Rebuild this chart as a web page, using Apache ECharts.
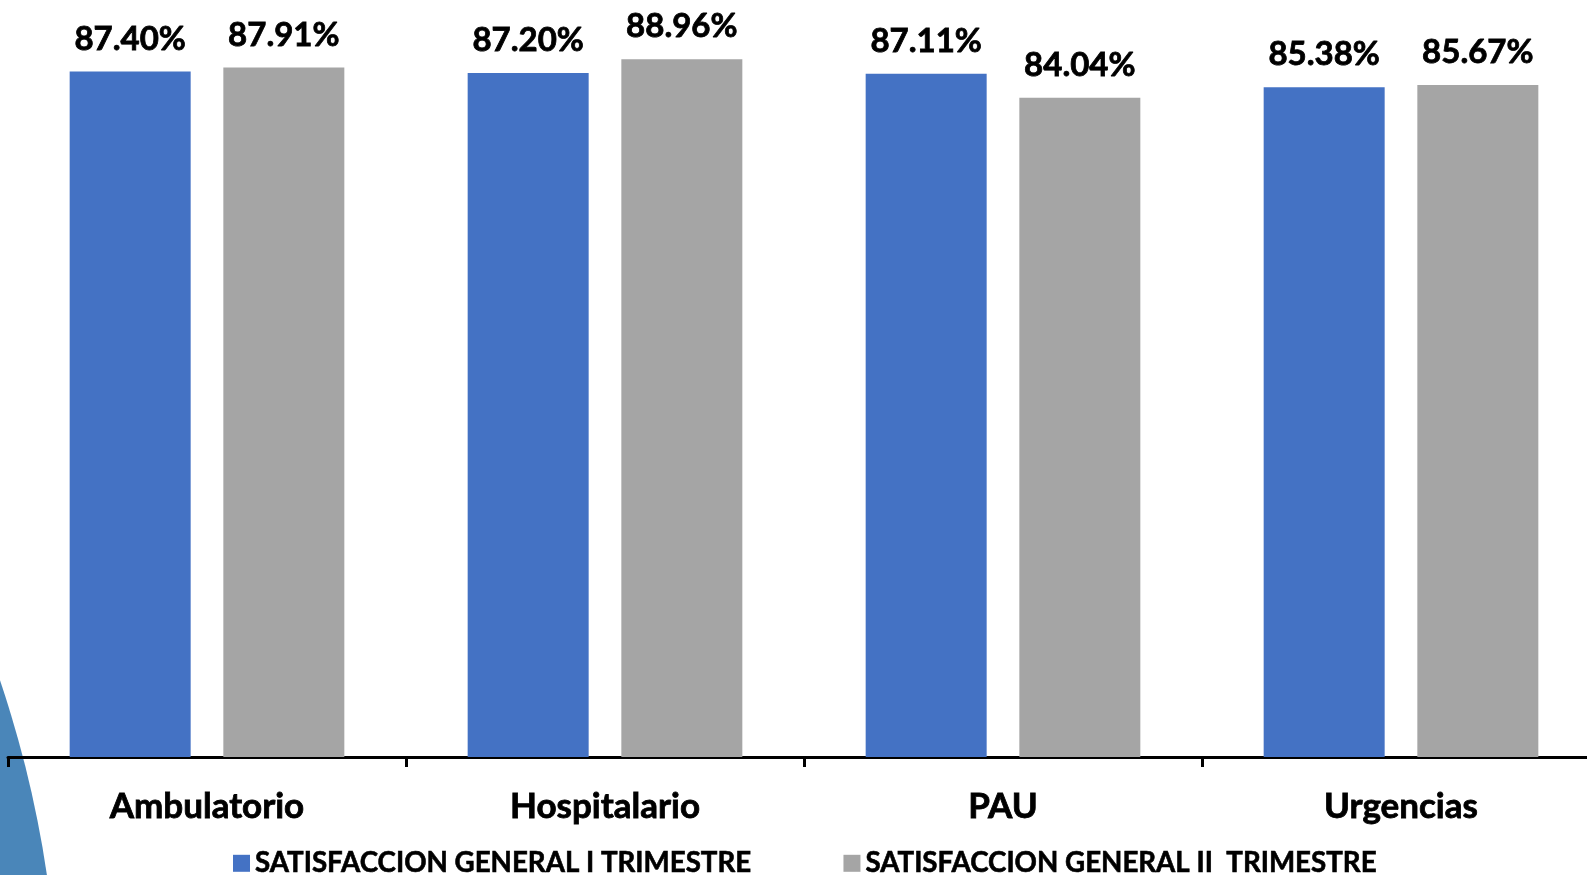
<!DOCTYPE html>
<html>
<head>
<meta charset="utf-8">
<script src="https://cdn.jsdelivr.net/npm/echarts@6/dist/echarts.min.js"></script>
<style>
  html, body { margin: 0; padding: 0; background: #fff; overflow: hidden; }
  /* el eje sigue mas alla del borde derecho, por eso el lienzo es algo mas ancho */
  #chart-panel { width: 1600px; height: 875px; }
</style>
</head>
<body>
<div id="chart-panel"></div>
<script>
// datos
const categories = ["Ambulatorio", "Hospitalario", "PAU", "Urgencias"]
const seriesNames = ["SATISFACCION GENERAL I TRIMESTRE", "SATISFACCION GENERAL II  TRIMESTRE"]
const trimestre1 = [87.40, 87.20, 87.11, 85.38]
const trimestre2 = [87.91, 88.96, 84.04, 85.67]

const color = ["#4472C4", "#A5A5A5"]
const font = "Lato, 'Open Sans', sans-serif"

const chart = echarts.init(document.getElementById("chart-panel"))

const barSeries = (name, data, i) => ({
  name: name,
  type: "bar",
  data: data,
  barWidth: 121,
  barGap: "27%",
  itemStyle: { color: color[i] },
  label: {
    show: true,
    position: "top",
    distance: 16,
    color: "#000",
    fontFamily: font,
    fontWeight: "bold",
    fontSize: 33,
    textBorderColor: "#000",
    textBorderWidth: 0.8,
    formatter: (p) => p.value.toFixed(2) + "%"
  }
})

const options = {
  animation: false,
  backgroundColor: "#fff",
  graphic: [
    {
      // adorno azul de fondo (esquina inferior izquierda)
      type: "circle",
      z: -10,
      shape: { cx: -1061, cy: 1039, r: 1120 },
      style: { fill: "#4a86b9" }
    }
  ],
  legend: {
    data: seriesNames,
    left: 228,
    top: 844,
    icon: "rect",
    itemWidth: 17,
    itemHeight: 17,
    itemGap: 92,
    textStyle: {
      color: "#000",
      fontFamily: font,
      fontWeight: "bold",
      fontSize: 27.7,
      textBorderColor: "#000",
      textBorderWidth: 0.6
    }
  },
  grid: {
    left: 8,
    width: 1592,
    top: 51,
    bottom: 118
  },
  xAxis: {
    type: "category",
    data: categories,
    axisLine: {
      show: true,
      lineStyle: { color: "#000", width: 3 }
    },
    axisTick: {
      show: true,
      length: 10,
      lineStyle: { color: "#000", width: 3 }
    },
    axisLabel: {
      margin: 32,
      color: "#000",
      fontFamily: font,
      fontWeight: "bold",
      fontSize: 35,
      textBorderColor: "#000",
      textBorderWidth: 0.8,
      interval: 0
    }
  },
  yAxis: {
    type: "value",
    min: 0,
    max: 90,
    show: false,
    splitLine: { show: false }
  },
  series: [
    barSeries(seriesNames[0], trimestre1, 0),
    barSeries(seriesNames[1], trimestre2, 1)
  ]
}
chart.setOption(options)
</script>
</body>
</html>
